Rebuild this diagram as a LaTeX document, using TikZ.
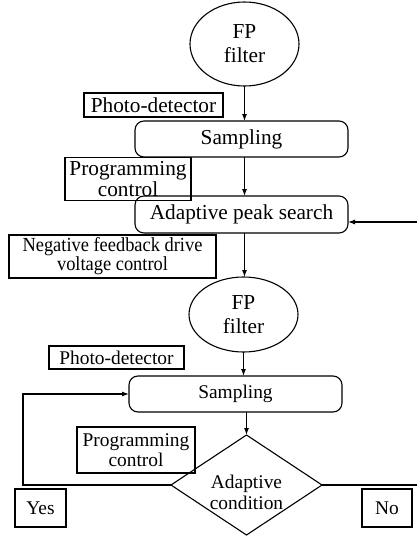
\documentclass[tikz,border=0pt]{standalone}
\usepackage{fontspec}
\setmainfont{Liberation Serif}
\newfontfamily\condfont[FakeStretch=0.92]{Liberation Serif}
\usetikzlibrary{shapes.geometric,arrows.meta}
\begin{document}
\begin{tikzpicture}[x=1pt,y=-1pt,
  every node/.style={inner sep=0pt,outer sep=0pt,align=center},
  ln/.style={line width=1.1pt},
  big/.style={font=\fontsize{21.3}{22}\selectfont},
  small/.style={font=\fontsize{19.4}{20}\selectfont},
  ell/.style={ln,draw,ellipse,minimum width=109pt,big,font=\fontsize{21.3}{24}\selectfont},
  rbox/.style={ln,draw,rectangle,rounded corners=9pt,minimum width=213pt,minimum height=36pt},
  sbox/.style={ln,draw,rectangle},
  arr/.style={ln,-{Latex[length=7pt,width=5pt]}}
]
\useasboundingbox (0,0) rectangle (417,536);
\node[ell,minimum height=84pt] (e1) at (244.5,44) {FP\\filter};
\node[sbox,big,minimum width=139pt,minimum height=24pt] (pd1) at (153.5,105) {Photo-detector};
\node[rbox,big] (s1) at (241.5,139) {Sampling};
\node[sbox,big,minimum width=126pt,minimum height=43pt,font=\fontsize{21.3}{21}\selectfont] (pc1) at (128,179) {Programming\\control};
\node[rbox,big,minimum height=37pt] (aps) at (241.5,214.5) {Adaptive peak search};
\node[sbox,minimum width=207pt,minimum height=43pt,font=\condfont\fontsize{20}{19}\selectfont] (nf) at (112.5,256.5) {Negative feedback drive\\voltage control};
\node[ell,minimum height=75pt] (e2) at (243.5,314.5) {FP\\filter};
\node[sbox,small,minimum width=135pt,minimum height=23pt] (pd2) at (116.5,357.5) {Photo-detector};
\node[rbox,small] (s2) at (235.5,394) {Sampling};
\node[sbox,small,minimum width=118pt,minimum height=46pt] (pc2) at (136,450) {Programming\\control};
\node[ln,draw,diamond,aspect=1.51,minimum width=151pt,minimum height=100pt] (dia) at (246.5,485) {};
\node[font=\fontsize{19.4}{21}\selectfont] (diat) at (246.5,492) {Adaptive\\condition};
\node[sbox,small,minimum width=51pt,minimum height=38pt] (yes) at (40.5,508) {Yes};
\node[sbox,small,minimum width=50pt,minimum height=38pt] (no) at (387,508) {No};
\coordinate (r1) at (417,222);
\coordinate (fl) at (23,485);
\coordinate (fr) at (417,485);
\draw[arr] (e1.south) -- (e1.south |- s1.north);
\draw[arr] (s1.south -| e1.south) -- (e1.south |- aps.north);
\draw[arr] (aps.south -| e1.south) -- (e1.south |- e2.north);
\draw[arr] (e2.south) -- (e2.south |- s2.north);
\draw[arr] (s2.south -| dia.north) -- (dia.north);
\draw[arr] (r1) -- (r1 -| aps.east);
\draw[arr] (dia.west) -- (fl) |- (s2.west);
\draw[ln] (dia.east) -- (fr);
\end{tikzpicture}
\end{document}
